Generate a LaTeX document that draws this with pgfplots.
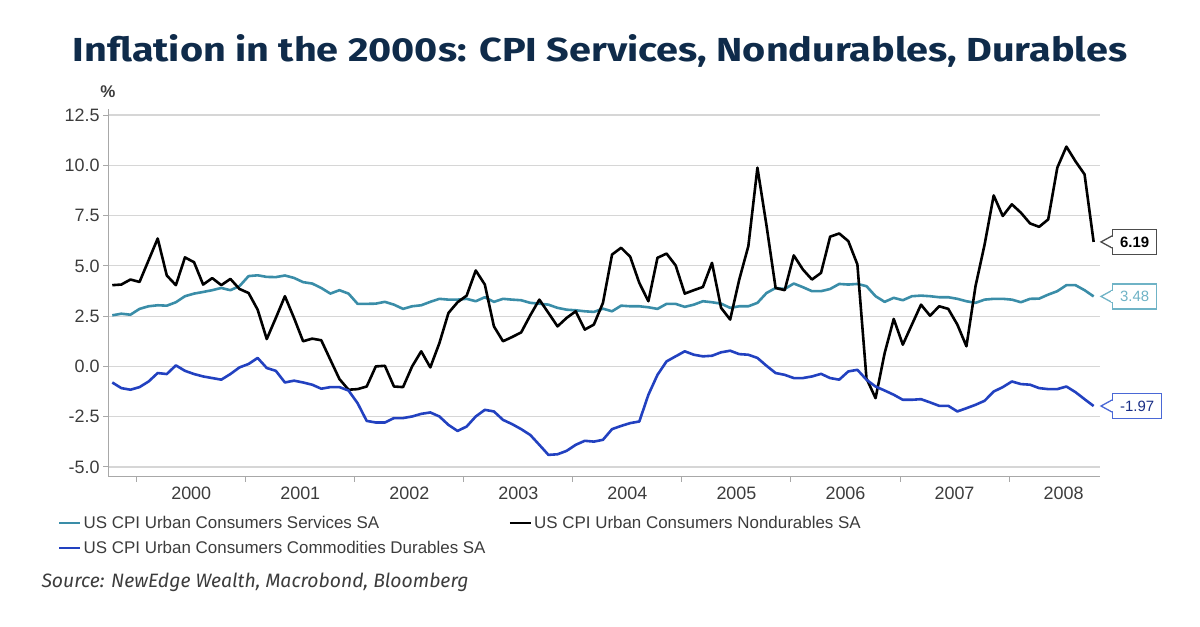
\documentclass[border=0pt]{standalone}
\usepackage{graphicx}
\usepackage{fontspec}
\usepackage{pgfplots}
\usepackage{pgfplotstable}
\pgfplotsset{compat=1.18}
\setmainfont{Liberation Sans}
\newfontfamily\titlefont{Fira Sans}
\definecolor{titlenavy}{HTML}{0F2B4A}
\definecolor{svc}{HTML}{3A8DA8}
\definecolor{svclab}{HTML}{6FB3C6}
\definecolor{dur}{HTML}{2241C0}
\definecolor{durlab}{HTML}{4A68D6}
\definecolor{gridc}{HTML}{D6D6D6}
\definecolor{axc}{HTML}{A8A8A8}
\definecolor{txt}{HTML}{3C3C3C}

\pgfplotstableread{
i s n d
0 2.54 4.04 -0.80
1 2.62 4.07 -1.08
2 2.57 4.32 -1.16
3 2.86 4.20 -1.03
4 2.99 5.28 -0.75
5 3.04 6.36 -0.33
6 3.02 4.52 -0.38
7 3.19 4.04 0.05
8 3.49 5.42 -0.22
9 3.62 5.18 -0.38
10 3.70 4.07 -0.50
11 3.79 4.39 -0.58
12 3.90 4.04 -0.66
13 3.79 4.35 -0.38
14 3.99 3.85 -0.05
15 4.49 3.65 0.12
16 4.53 2.82 0.42
17 4.45 1.36 -0.08
18 4.44 2.41 -0.22
19 4.52 3.49 -0.80
20 4.40 2.41 -0.71
21 4.19 1.25 -0.80
22 4.12 1.38 -0.91
23 3.90 1.30 -1.11
24 3.62 0.33 -1.03
25 3.79 -0.63 -1.03
26 3.62 -1.16 -1.20
27 3.11 -1.13 -1.83
28 3.11 -1.00 -2.71
29 3.12 0.00 -2.79
30 3.21 0.03 -2.79
31 3.07 -1.00 -2.57
32 2.86 -1.03 -2.57
33 2.99 0.00 -2.49
34 3.04 0.75 -2.36
35 3.21 -0.05 -2.29
36 3.36 1.16 -2.49
37 3.32 2.66 -2.91
38 3.32 3.19 -3.21
39 3.36 3.52 -2.99
40 3.24 4.77 -2.49
41 3.44 4.07 -2.16
42 3.21 1.99 -2.24
43 3.36 1.25 -2.66
44 3.32 1.46 -2.87
45 3.29 1.69 -3.12
46 3.16 2.54 -3.41
47 3.12 3.32 -3.90
48 3.07 2.66 -4.40
49 2.91 1.99 -4.37
50 2.82 2.41 -4.20
51 2.79 2.74 -3.90
52 2.74 1.83 -3.70
53 2.71 2.08 -3.74
54 2.87 3.16 -3.65
55 2.74 5.56 -3.12
56 3.02 5.90 -2.96
57 2.99 5.45 -2.82
58 2.99 4.15 -2.74
59 2.94 3.24 -1.41
60 2.86 5.40 -0.42
61 3.11 5.61 0.25
62 3.11 5.02 0.50
63 2.96 3.62 0.75
64 3.07 3.79 0.58
65 3.24 3.95 0.50
66 3.19 5.15 0.53
67 3.12 2.91 0.70
68 2.91 2.33 0.78
69 2.99 4.32 0.61
70 2.99 5.98 0.58
71 3.16 9.88 0.42
72 3.65 7.00 0.03
73 3.90 3.90 -0.33
74 3.85 3.79 -0.42
75 4.12 5.52 -0.58
76 3.94 4.82 -0.58
77 3.74 4.32 -0.50
78 3.74 4.65 -0.37
79 3.85 6.45 -0.58
80 4.10 6.61 -0.66
81 4.07 6.23 -0.25
82 4.10 5.07 -0.17
83 3.99 -0.60 -0.66
84 3.49 -1.58 -1.00
85 3.21 0.66 -1.20
86 3.41 2.36 -1.41
87 3.29 1.08 -1.66
88 3.49 2.08 -1.66
89 3.52 3.07 -1.63
90 3.49 2.52 -1.79
91 3.44 2.99 -1.96
92 3.44 2.86 -1.96
93 3.36 2.08 -2.24
94 3.24 1.00 -2.08
95 3.16 3.99 -1.91
96 3.32 6.06 -1.71
97 3.36 8.50 -1.25
98 3.36 7.48 -1.03
99 3.32 8.06 -0.75
100 3.19 7.64 -0.88
101 3.36 7.11 -0.91
102 3.37 6.94 -1.08
103 3.57 7.31 -1.13
104 3.74 9.88 -1.13
105 4.04 10.93 -1.00
106 4.04 10.20 -1.28
107 3.79 9.55 -1.63
108 3.48 6.19 -1.97
}\cpidata

\begin{document}
\begin{tikzpicture}
\useasboundingbox (0,0) rectangle (1200bp,627bp);
\node[text=titlenavy, anchor=base, inner sep=0pt] at (600bp,565.3bp)
  {\resizebox{1054bp}{27bp}{\titlefont\bfseries Inflation in the 2000s: CPI Services, Nondurables, Durables}};
\begin{axis}[
  at={(108bp,150bp)}, anchor=south west,
  scale only axis, width=992bp, height=368bp,
  xmin=-0.47, xmax=108.7, ymin=-5.5, ymax=12.8,
  clip=false,
  axis x line*=bottom, axis y line*=left,
  axis line style={axc, line width=1bp},
  every tick/.style={axc, line width=1bp},
  tick align=outside, major tick length=5bp,
  ytick={-5,-2.5,0,2.5,5,7.5,10,12.5},
  yticklabels={-5.0,-2.5,0.0,2.5,5.0,7.5,10.0,12.5},
  xtick={2.69,14.69,26.69,38.69,50.69,62.69,74.69,86.69,98.69},
  xticklabels={},
  extra x ticks={8.69,20.69,32.69,44.69,56.69,68.69,80.69,92.69,104.69},
  extra x tick labels={2000,2001,2002,2003,2004,2005,2006,2007,2008},
  extra x tick style={major tick length=0pt, xmajorgrids=false},
  ymajorgrids, major grid style={gridc, line width=1.2bp},
  yticklabel style={font=\fontsize{18}{18}\selectfont, text=txt},
  xticklabel style={font=\fontsize{18}{18}\selectfont, text=txt, yshift=-6bp},
  legend columns=2,
  legend cell align=left,
  legend style={at={(axis description cs:-0.0534,-0.095)}, anchor=north west,
    draw=none, fill=none, font=\fontsize{17}{17}\selectfont, text=txt,
    nodes={inner xsep=2bp, inner ysep=2bp},
    row sep=7bp,
    /tikz/every even column/.append style={column sep=21bp}},
  legend image code/.code={\draw[#1, line width=2.5bp] (0bp,0bp) -- (21bp,0bp);},
]
\addplot[svc, line width=2.6bp, line join=round] table[x=i, y=s] {\cpidata};
\addlegendentry{US CPI Urban Consumers Services SA}
\addplot[black, line width=2.6bp, line join=round] table[x=i, y=n] {\cpidata};
\addlegendentry{US CPI Urban Consumers Nondurables SA}
\addplot[dur, line width=2.6bp, line join=round] table[x=i, y=d] {\cpidata};
\addlegendentry{US CPI Urban Consumers Commodities Durables SA}

\node[text=txt, font=\fontsize{17}{17}\selectfont\bfseries] at ([yshift=17bp]rel axis cs:0,1) {\%};

% callouts
\node[draw=black!70, line width=1.3bp, fill=white, text=black, anchor=west,
  inner xsep=7.5bp, inner ysep=7bp, text height=11bp, text depth=0bp,
  font=\fontsize{15}{15}\selectfont\bfseries] (c1) at ([xshift=12bp]axis cs:108.7,6.19) {6.19};
\draw[black!70, line width=1.3bp, fill=white, line join=miter] ([yshift=6bp]c1.west) -- ([xshift=-11bp]c1.west) -- ([yshift=-6bp]c1.west);
\fill[white] ([yshift=5.1bp, xshift=-0.8bp]c1.west) rectangle ([yshift=-5.1bp, xshift=0.8bp]c1.west);

\node[draw=svclab, line width=1.3bp, fill=white, text=svclab, anchor=west,
  inner xsep=7.5bp, inner ysep=7bp, text height=11bp, text depth=0bp,
  font=\fontsize{15}{15}\selectfont] (c2) at ([xshift=12bp]axis cs:108.7,3.48) {3.48};
\draw[svclab, line width=1.3bp, fill=white, line join=miter] ([yshift=6bp]c2.west) -- ([xshift=-11bp]c2.west) -- ([yshift=-6bp]c2.west);
\fill[white] ([yshift=5.1bp, xshift=-0.8bp]c2.west) rectangle ([yshift=-5.1bp, xshift=0.8bp]c2.west);

\node[draw=durlab, line width=1.3bp, fill=white, text=dur!70!black, anchor=west,
  inner xsep=7.5bp, inner ysep=7bp, text height=11bp, text depth=0bp,
  font=\fontsize{15}{15}\selectfont] (c3) at ([xshift=12bp]axis cs:108.7,-1.97) {-1.97};
\draw[durlab, line width=1.3bp, fill=white, line join=miter] ([yshift=6bp]c3.west) -- ([xshift=-11bp]c3.west) -- ([yshift=-6bp]c3.west);
\fill[white] ([yshift=5.1bp, xshift=-0.8bp]c3.west) rectangle ([yshift=-5.1bp, xshift=0.8bp]c3.west);
\end{axis}
\node[anchor=base west, text=txt] at (38bp,39bp)
  {\resizebox{427bp}{!}{\titlefont\itshape Source: NewEdge Wealth, Macrobond, Bloomberg}};
\end{tikzpicture}
\end{document}
